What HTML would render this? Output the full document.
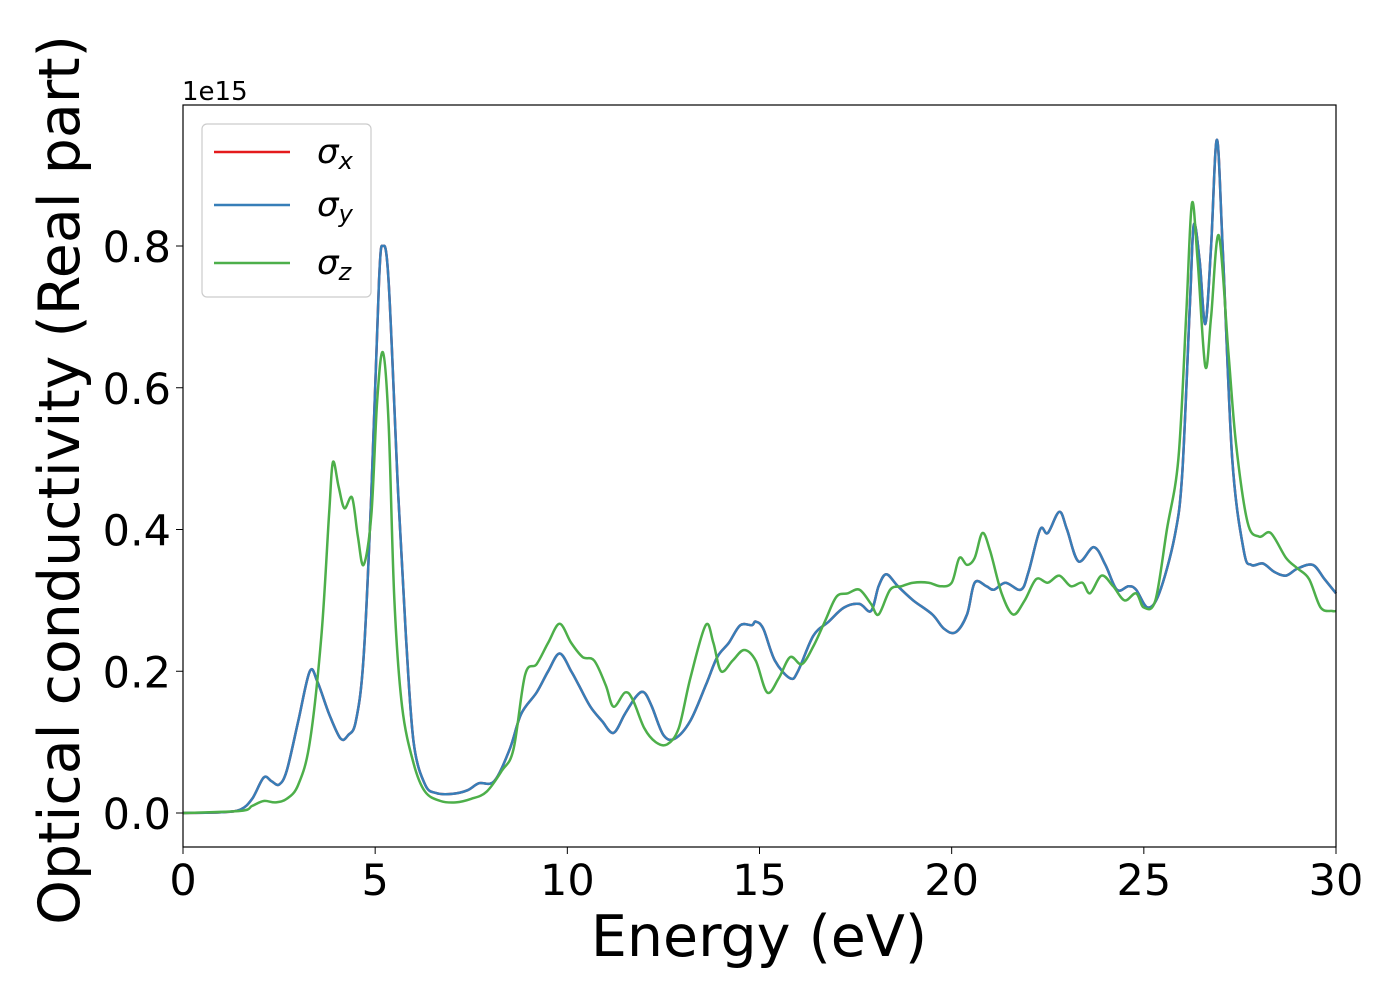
<!DOCTYPE html>
<html><head><meta charset="utf-8"><style>
body{margin:0;background:#fff;}
svg{font-family:"DejaVu Sans","Liberation Sans",sans-serif;}
</style></head><body>
<svg id="chart" width="1400" height="1000" xmlns="http://www.w3.org/2000/svg">
<rect width="1400" height="1000" fill="#fff"/>
<g id="series"></g>
<rect x="183" y="105" width="1153" height="742" fill="none" stroke="#000" stroke-width="1.2"/>
<g id="xticks"></g><g id="yticks"></g>
<text x="182" y="100" font-size="26">1e15</text>
<text x="759" y="956" font-size="57" text-anchor="middle">Energy (eV)</text>
<text transform="translate(79,480) rotate(-90)" font-size="57" text-anchor="middle">Optical conductivity (Real part)</text>
<g>
<rect x="202" y="124" width="169" height="173" rx="5" fill="#fff" fill-opacity="0.8" stroke="#ccc" stroke-width="1.2"/>
<line x1="214" y1="152" x2="290" y2="152" stroke="#e41a1c" stroke-width="2.5"/>
<text x="317" y="163" font-size="34" font-style="italic">σ<tspan font-size="24" dy="6">x</tspan></text>
<line x1="214" y1="205" x2="290" y2="205" stroke="#377eb8" stroke-width="2.5"/>
<text x="317" y="216" font-size="34" font-style="italic">σ<tspan font-size="24" dy="6">y</tspan></text>
<line x1="214" y1="263" x2="290" y2="263" stroke="#4daf4a" stroke-width="2.5"/>
<text x="317" y="274" font-size="34" font-style="italic">σ<tspan font-size="24" dy="6">z</tspan></text>
</g>
</svg>
<script>
const xyEnergy=[0,1,1.5,1.8,2.1,2.3,2.5,2.7,3.0,3.3,3.5,3.8,4.1,4.3,4.5,4.7,4.9,5.1,5.2,5.35,5.6,5.8,6.0,6.3,6.6,7.0,7.4,7.7,8.1,8.5,8.8,9.2,9.5,9.8,10.1,10.3,10.6,10.9,11.2,11.5,11.8,12.0,12.2,12.5,12.8,13.2,13.6,13.9,14.2,14.5,14.8,14.9,15.1,15.4,15.8,16.0,16.4,16.8,17.2,17.6,17.9,18.1,18.3,18.6,19.0,19.5,19.8,20.1,20.4,20.6,20.9,21.1,21.4,21.8,22.0,22.3,22.5,22.8,23.0,23.3,23.7,24.0,24.3,24.6,24.8,25.1,25.4,25.8,26.0,26.2,26.3,26.45,26.6,26.75,26.9,27.05,27.3,27.6,27.8,28.1,28.4,28.7,29.0,29.4,29.7,30];
const sigmaXY=[0,0.001,0.005,0.02,0.05,0.045,0.04,0.06,0.13,0.20,0.185,0.14,0.105,0.11,0.13,0.22,0.45,0.75,0.80,0.75,0.45,0.25,0.10,0.04,0.028,0.027,0.032,0.042,0.045,0.09,0.14,0.17,0.20,0.225,0.20,0.18,0.15,0.13,0.113,0.14,0.165,0.17,0.15,0.11,0.105,0.13,0.18,0.22,0.24,0.265,0.265,0.27,0.26,0.215,0.19,0.20,0.25,0.27,0.29,0.295,0.285,0.32,0.337,0.32,0.30,0.28,0.26,0.255,0.28,0.325,0.32,0.315,0.325,0.315,0.34,0.40,0.395,0.425,0.40,0.355,0.375,0.35,0.315,0.32,0.315,0.29,0.31,0.39,0.48,0.72,0.83,0.78,0.69,0.80,0.95,0.80,0.50,0.37,0.35,0.352,0.34,0.335,0.345,0.35,0.33,0.31];
const zEnergy=[0,1.5,1.8,2.1,2.4,2.7,3.0,3.3,3.6,3.8,3.9,4.05,4.2,4.4,4.55,4.7,4.9,5.05,5.2,5.35,5.5,5.7,6.0,6.3,6.7,7.1,7.5,7.9,8.3,8.6,8.9,9.2,9.5,9.8,10.1,10.4,10.7,11.0,11.2,11.5,11.7,12.0,12.3,12.6,12.9,13.2,13.6,13.8,14.0,14.3,14.6,14.9,15.2,15.5,15.8,16.1,16.4,16.7,17.0,17.3,17.6,17.9,18.1,18.4,18.7,19.0,19.4,19.7,20.0,20.2,20.4,20.6,20.8,21.0,21.3,21.6,21.9,22.2,22.5,22.8,23.1,23.4,23.6,23.9,24.2,24.5,24.8,25.0,25.3,25.6,25.9,26.1,26.25,26.4,26.6,26.75,26.95,27.2,27.4,27.7,28.0,28.3,28.7,29.0,29.3,29.6,29.9,30];
const sigmaZ=[0,0.003,0.01,0.017,0.015,0.02,0.04,0.10,0.25,0.42,0.495,0.46,0.43,0.445,0.39,0.35,0.42,0.58,0.65,0.55,0.30,0.15,0.07,0.03,0.017,0.015,0.02,0.03,0.06,0.09,0.195,0.21,0.24,0.267,0.24,0.22,0.215,0.18,0.15,0.17,0.16,0.12,0.10,0.097,0.12,0.19,0.265,0.24,0.20,0.215,0.23,0.215,0.17,0.19,0.22,0.21,0.235,0.27,0.305,0.31,0.315,0.295,0.28,0.315,0.32,0.325,0.325,0.32,0.325,0.36,0.35,0.36,0.395,0.37,0.31,0.28,0.30,0.33,0.325,0.335,0.32,0.325,0.31,0.335,0.32,0.30,0.31,0.29,0.30,0.40,0.50,0.70,0.86,0.78,0.63,0.70,0.815,0.65,0.52,0.41,0.39,0.395,0.36,0.345,0.33,0.29,0.285,0.285];
const xTickLabels=["0","5","10","15","20","25","30"];
const yTickLabels=["0.0","0.2","0.4","0.6","0.8"];

const NS="http://www.w3.org/2000/svg";
const sx=v=>183+v*(1153/30);
const sy=v=>813-v*708.75;
function line(xs,ys,color,name){
  const P=xs.map((x,i)=>[sx(x),sy(ys[i])]);
  let d="M"+P[0][0].toFixed(1)+","+P[0][1].toFixed(1);
  for(let i=0;i<P.length-1;i++){
    const p0=P[Math.max(0,i-1)],p1=P[i],p2=P[i+1],p3=P[Math.min(P.length-1,i+2)];
    const c1=[p1[0]+(p2[0]-p0[0])/6,p1[1]+(p2[1]-p0[1])/6];
    const c2=[p2[0]-(p3[0]-p1[0])/6,p2[1]-(p3[1]-p1[1])/6];
    d+=" C"+c1.map(v=>v.toFixed(1)).join(",")+" "+c2.map(v=>v.toFixed(1)).join(",")+" "+p2.map(v=>v.toFixed(1)).join(",");
  }
  const p=document.createElementNS(NS,"path");
  p.setAttribute("d",d);
  p.setAttribute("fill","none");p.setAttribute("stroke",color);p.setAttribute("stroke-width","2.5");
  p.setAttribute("stroke-linejoin","round");
  
  
  document.getElementById("series").appendChild(p);
}
line(xyEnergy,sigmaXY,"#e41a1c","sigma-x-line");
line(xyEnergy,sigmaXY,"#377eb8","sigma-y-line");
line(zEnergy,sigmaZ,"#4daf4a","sigma-z-line");
const gx=document.getElementById("xticks");
xTickLabels.forEach(l=>{
  const x=sx(parseFloat(l));
  const t=document.createElementNS(NS,"line");
  t.setAttribute("x1",x);t.setAttribute("x2",x);t.setAttribute("y1",847);t.setAttribute("y2",854);t.setAttribute("stroke","#000");
  
  
  gx.appendChild(t);
  const s=document.createElementNS(NS,"text");
  s.setAttribute("x",x);s.setAttribute("y",895);s.setAttribute("font-size","43");s.setAttribute("text-anchor","middle");
  s.textContent=l;
  
  
  gx.appendChild(s);
});
const gy=document.getElementById("yticks");
yTickLabels.forEach(l=>{
  const y=sy(parseFloat(l));
  const t=document.createElementNS(NS,"line");
  t.setAttribute("x1",176);t.setAttribute("x2",183);t.setAttribute("y1",y);t.setAttribute("y2",y);t.setAttribute("stroke","#000");
  
  
  gy.appendChild(t);
  const s=document.createElementNS(NS,"text");
  s.setAttribute("x",171);s.setAttribute("y",y+16);s.setAttribute("font-size","43");s.setAttribute("text-anchor","end");
  s.textContent=l;
  
  
  gy.appendChild(s);
});
</script>
</body></html>
